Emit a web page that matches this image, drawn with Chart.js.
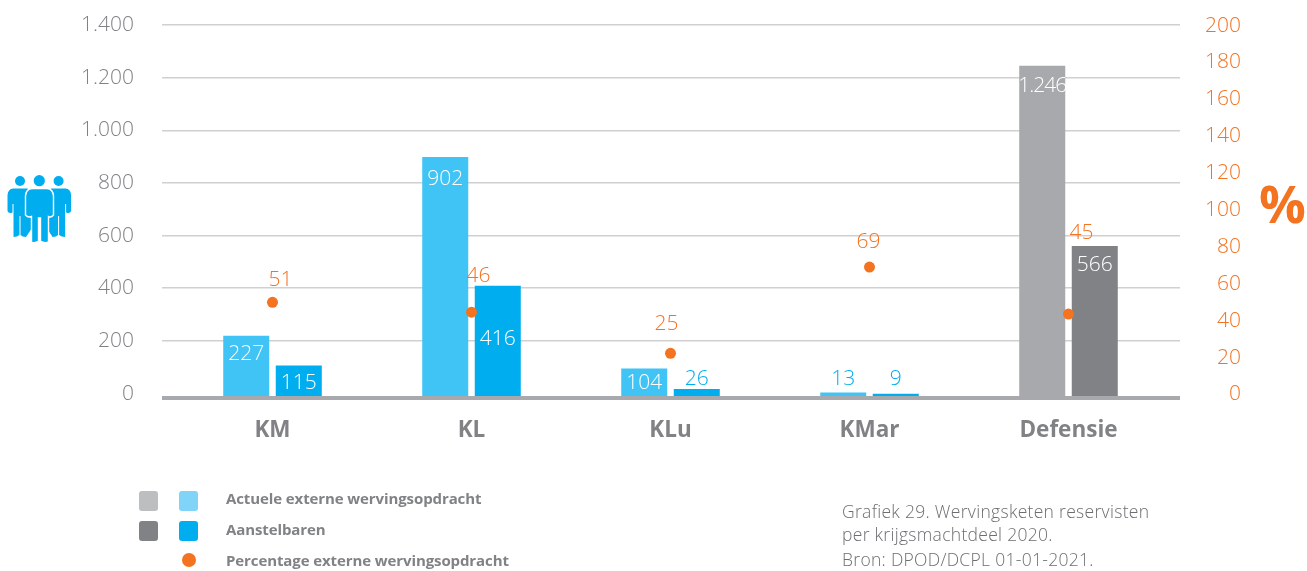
<!DOCTYPE html>
<html lang="nl">
<head>
<meta charset="utf-8">
<title>Wervingsketen reservisten</title>
<script src="https://cdn.jsdelivr.net/npm/chart.js@4/dist/chart.umd.min.js"></script>
<style>
  html,body{margin:0;padding:0;background:#fff;}
  #wrap{position:relative;width:1307px;height:571px;overflow:hidden;font-family:"Open Sans",sans-serif;}
  canvas{position:absolute;left:0;top:0;}
  .abs{position:absolute;white-space:nowrap;}
  .sw{position:absolute;width:19px;height:20px;border-radius:3px;}
  .lg{position:absolute;left:226px;font-weight:700;font-size:15px;line-height:20px;color:#808285;white-space:nowrap;letter-spacing:-0.1px;}
  .note{position:absolute;left:842px;font-weight:350;font-size:17.5px;line-height:20px;color:#6d6e71;white-space:nowrap;letter-spacing:0.3px;}
</style>
</head>
<body>
<div id="wrap">
  <canvas id="c" width="1307" height="571"></canvas>

  <svg class="abs" style="left:0;top:170px" width="80" height="80" viewBox="0 170 80 80" fill="#00aeef">
    <g id="side">
      <circle cx="20" cy="181" r="5"/>
      <path d="M13 188.5H27Q32 189 32 196V228L26 237Q22 237 20.5 235V216H19.5V235Q17 237 13.5 237V204H12.5V212.5Q8.5 214 7.5 211V195Q8 189 13 188.5Z"/>
    </g>
    <g>
      <circle cx="58.6" cy="181" r="5"/>
      <path d="M65.6 188.5H51.6Q46.6 189 46.6 196V228L52.6 237Q56.6 237 58.1 235V216H59.1V235Q61.6 237 65.1 237V204H66.1V212.5Q70.1 214 71.1 211V195Q70.6 189 65.6 188.5Z"/>
    </g>
    <circle cx="39.3" cy="180.7" r="5.6"/>
    <path stroke="#fff" stroke-width="1.4" d="M32 188.5H47Q53 189 53.5 196V215Q51 218 48.5 216.5V242Q45 243.5 40.5 241.5V218H38.5V241.5Q34 243.5 31.5 242V216.5Q28 218 25.5 215V196Q26 189 32 188.5Z"/>
  </svg>

  <div class="abs" style="left:1259px;top:165px;font-size:52px;line-height:76px;font-weight:700;color:#f37321;">%</div>

  <div class="sw" style="left:139px;top:491px;background:#bcbec0"></div>
  <div class="sw" style="left:179px;top:491px;background:#7fd4f7"></div>
  <div class="sw" style="left:139px;top:521px;background:#808285"></div>
  <div class="sw" style="left:179px;top:521px;background:#00aeef"></div>
  <div class="abs" style="left:182px;top:553px;width:14px;height:14px;border-radius:50%;background:#f37321"></div>

  <div class="lg" style="top:488px">Actuele externe wervingsopdracht</div>
  <div class="lg" style="top:519px">Aanstelbaren</div>
  <div class="lg" style="top:550px">Percentage externe wervingsopdracht</div>

  <div class="note" style="top:501px">Grafiek 29. Wervingsketen reservisten</div>
  <div class="note" style="top:524px">per krijgsmachtdeel 2020.</div>
  <div class="note" style="top:549px">Bron: DPOD/DCPL 01-01-2021.</div>
</div>

<script>
const categories = ['KM', 'KL', 'KLu', 'KMar', 'Defensie'];
const actueleOpdracht = [227, 902, 104, 13, 1246];
const aanstelbaren = [115, 416, 26, 9, 566];
const percentage = [51, 46, 25, 69, 45];
const leftTicks = [0, 200, 400, 600, 800, 1000, 1200, 1400];
const rightTicks = [0, 20, 40, 60, 80, 100, 120, 140, 160, 180, 200];

const ORANGE = '#f37321', GREY = '#808285', BLUE = '#00aeef';
const thin = { family: '"Open Sans", sans-serif', size: 21, weight: '350' };
const colorsActueel = ['#40c4f5', '#40c4f5', '#40c4f5', '#40c4f5', '#a7a9ac'];
const colorsAanstel = [BLUE, BLUE, BLUE, BLUE, GREY];

const dots = v => String(v).replace(/\B(?=(\d{3})+$)/g, '.');

/* label placement relative to each mark, in px */
const barLabelOffset = [[18, 22, 15, -14, 20], [17, 53, -10, -15, 19]];
const pctLabelOffset = [[8, -22], [7, -36], [-4, -29], [-1, -25], [13, -81]];

const markLabels = {
  id: 'markLabels',
  afterDatasetsDraw(chart) {
    const ctx = chart.ctx;
    ctx.save();
    ctx.font = `${thin.weight} ${thin.size}px ${thin.family}`;
    ctx.textAlign = 'center';
    ctx.textBaseline = 'middle';
    [0, 1].forEach(d => {
      chart.getDatasetMeta(d).data.forEach((el, i) => {
        const off = barLabelOffset[d][i];
        const v = chart.data.datasets[d].data[i];
        ctx.letterSpacing = v >= 1000 ? '-1px' : '0px';
        ctx.fillStyle = off > 0 ? '#ffffff' : BLUE;
        ctx.fillText(dots(v), el.x, el.y + off);
      });
    });
    ctx.letterSpacing = '0px';
    ctx.fillStyle = ORANGE;
    chart.getDatasetMeta(2).data.forEach((el, i) => {
      ctx.fillText(String(percentage[i]), el.x + pctLabelOffset[i][0], el.y + pctLabelOffset[i][1]);
    });
    ctx.restore();
  }
};

/* the category slots are narrower than the gridlines in the reference */
const narrowCategories = {
  id: 'narrowCategories',
  afterLayout(chart) {
    const x = chart.scales.x;
    x.left = 173;
    x.right = 1168;
    x.configure();
  }
};

const noOverflow = s => { s.paddingTop = 0; s.paddingBottom = 0; };

new Chart(document.getElementById('c'), {
  data: {
    labels: categories,
    datasets: [
      { type: 'bar', label: 'Actuele externe wervingsopdracht', data: actueleOpdracht, yAxisID: 'yBars',
        backgroundColor: colorsActueel, categoryPercentage: 0.528, barPercentage: 0.876, order: 2 },
      { type: 'bar', label: 'Aanstelbaren', data: aanstelbaren, yAxisID: 'yBars',
        backgroundColor: colorsAanstel, categoryPercentage: 0.528, barPercentage: 0.876, order: 2 },
      { type: 'line', label: 'Percentage externe wervingsopdracht', data: percentage, yAxisID: 'yPct',
        showLine: false, pointRadius: 5.5, pointHoverRadius: 5.5, pointBackgroundColor: ORANGE,
        pointBorderWidth: 0, order: 1 }
    ]
  },
  options: {
    responsive: false,
    animation: false,
    events: [],
    layout: { padding: { top: 25, left: 0, right: 66, bottom: 0 } },
    plugins: { legend: { display: false }, tooltip: { enabled: false } },
    scales: {
      x: {
        type: 'category',
        grid: { display: false },
        border: { display: false },
        ticks: { color: GREY, font: { family: thin.family, size: 22.5, weight: '700' }, padding: 11, maxRotation: 0, autoSkip: false },
        afterFit(s) { s.height = 173; }
      },
      y: {
        position: 'left',
        min: -17, max: 1400,
        border: { display: false },
        grid: {
          drawTicks: false,
          lineWidth: c => (c.tick && c.tick.value === 0 ? 0 : 1.5),
          color: '#cfd0d2'
        },
        ticks: { color: GREY, font: thin, padding: 28, callback: v => dots(v) },
        afterBuildTicks(s) { s.ticks = leftTicks.map(value => ({ value })); },
        afterFit(s) { s.width = 162; noOverflow(s); }
      },
      yBars: {
        position: 'left',
        min: -7.5, max: 1400,
        border: { display: false },
        grid: { drawTicks: false, lineWidth: 4, color: '#a7a9ac' },
        ticks: { display: false },
        afterBuildTicks(s) { s.ticks = [{ value: -6.4 }]; },
        afterFit(s) { s.width = 0; noOverflow(s); }
      },
      y1: {
        position: 'right',
        min: -1.9, max: 200.3,
        border: { display: false },
        grid: { display: false },
        ticks: { color: ORANGE, font: thin, padding: 25, crossAlign: 'far' },
        afterBuildTicks(s) { s.ticks = rightTicks.map(value => ({ value })); },
        afterFit(s) { s.width = 61; noOverflow(s); }
      },
      yPct: { display: false, min: 2.2, max: 192.5 }
    }
  },
  plugins: [narrowCategories, markLabels]
});
</script>
</body>
</html>
